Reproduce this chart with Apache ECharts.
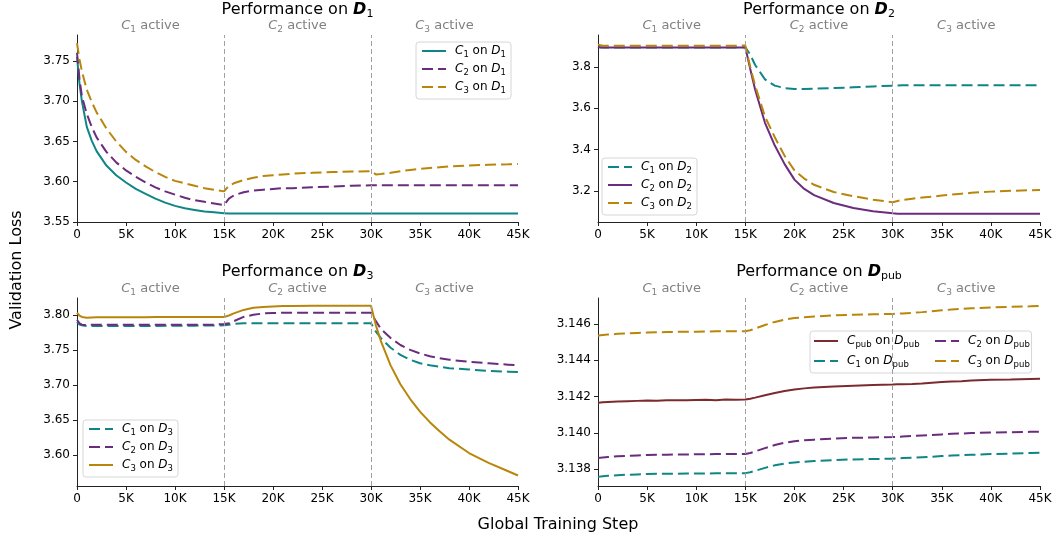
<!DOCTYPE html>
<html>
<head>
<meta charset="utf-8">
<script src="https://cdn.jsdelivr.net/npm/echarts@6/dist/echarts.min.js"></script>
<style>
  html, body { margin: 0; padding: 0; background: #fff; }
  #chart { width: 1056px; height: 539px; }
</style>
</head>
<body>
<div id="chart"></div>
<script>
// --- Pasos de entrenamiento (eje x compartido) ---
const steps = [0, 250, 500, 1000, 1500, 2000, 3000, 4000, 5000, 6000, 7000, 8000, 9000, 10000,
    11000, 12000, 13000, 14000, 15000, 15500, 16000, 17000, 18000, 19000, 20000, 21000, 22000,
    24000, 26000, 28000, 30000, 30500, 31000, 32000, 33000, 34000, 35000, 36000, 37000, 38000,
    40000, 42000, 44000, 45000];

const xTicks = [0, 5000, 10000, 15000, 20000, 25000, 30000, 35000, 40000, 45000];
const phaseBounds = [0, 15000, 30000, 45000];
const phaseNames = ["1", "2", "3"];

// --- Panel D1 ---
const c1d1 = [3.755, 3.722, 3.700, 3.668, 3.651, 3.638, 3.620, 3.608, 3.599, 3.591, 3.585, 3.579, 3.574, 3.570,
    3.567, 3.565, 3.563, 3.562, 3.561, 3.5605, 3.5605, 3.5605, 3.5605, 3.5605, 3.5605, 3.5605, 3.5605,
    3.5605, 3.5605, 3.5605, 3.5605, 3.5605, 3.5605, 3.5605, 3.5605, 3.5605, 3.5605, 3.5605, 3.5605, 3.5605,
    3.5605, 3.5605, 3.5605, 3.5605];
const c2d1 = [3.760, 3.728, 3.706, 3.684, 3.668, 3.655, 3.637, 3.624, 3.614, 3.606, 3.599, 3.593, 3.588, 3.584,
    3.580, 3.577, 3.575, 3.573, 3.571, 3.579, 3.583, 3.587, 3.589, 3.590, 3.591, 3.592, 3.592,
    3.593, 3.594, 3.595, 3.5955, 3.5955, 3.5955, 3.5955, 3.5955, 3.5955, 3.5955, 3.5955, 3.5955, 3.5955,
    3.5955, 3.5955, 3.5955, 3.5955];
const c3d1 = [3.772, 3.752, 3.737, 3.714, 3.699, 3.686, 3.666, 3.650, 3.637, 3.627, 3.619, 3.612, 3.606, 3.601,
    3.598, 3.595, 3.592, 3.590, 3.588, 3.595, 3.598, 3.602, 3.605, 3.607, 3.608, 3.609, 3.610,
    3.611, 3.612, 3.6125, 3.613, 3.609, 3.6095, 3.611, 3.613, 3.6145, 3.616, 3.617, 3.618, 3.619,
    3.620, 3.621, 3.6215, 3.622];

// --- Panel D2 ---
const c1d2 = [3.898, 3.896, 3.895, 3.895, 3.895, 3.895, 3.895, 3.895, 3.895, 3.895, 3.895, 3.895, 3.895, 3.895,
    3.895, 3.895, 3.895, 3.895, 3.896, 3.86, 3.81, 3.74, 3.71, 3.698, 3.694, 3.694, 3.695,
    3.698, 3.702, 3.706, 3.710, 3.711, 3.712, 3.712, 3.712, 3.712, 3.712, 3.712, 3.712, 3.712,
    3.712, 3.712, 3.712, 3.712];
const c2d2 = [3.897, 3.894, 3.894, 3.894, 3.894, 3.894, 3.894, 3.894, 3.894, 3.894, 3.894, 3.894, 3.894, 3.894,
    3.894, 3.894, 3.894, 3.894, 3.895, 3.79, 3.69, 3.53, 3.42, 3.33, 3.255, 3.21, 3.18,
    3.142, 3.118, 3.102, 3.092, 3.090, 3.090, 3.090, 3.090, 3.090, 3.090, 3.090, 3.090, 3.090,
    3.090, 3.090, 3.090, 3.090];
const c3d2 = [3.910, 3.905, 3.903, 3.903, 3.903, 3.903, 3.903, 3.903, 3.903, 3.903, 3.903, 3.903, 3.903, 3.903,
    3.903, 3.903, 3.903, 3.903, 3.904, 3.80, 3.71, 3.56, 3.46, 3.37, 3.30, 3.26, 3.23,
    3.195, 3.175, 3.158, 3.146, 3.152, 3.157, 3.163, 3.168, 3.173, 3.178, 3.183, 3.187, 3.191,
    3.197, 3.201, 3.204, 3.205];

// --- Panel D3 ---
const c1d3 = [3.790, 3.786, 3.785, 3.784, 3.784, 3.784, 3.784, 3.784, 3.784, 3.784, 3.784, 3.7842, 3.7844, 3.7845,
    3.7845, 3.7846, 3.7847, 3.7848, 3.785, 3.786, 3.787, 3.788, 3.788, 3.788, 3.788, 3.788, 3.788,
    3.788, 3.788, 3.788, 3.788, 3.776, 3.767, 3.753, 3.743, 3.736, 3.731, 3.728, 3.726, 3.724,
    3.722, 3.720, 3.719, 3.7185];
const c2d3 = [3.793, 3.788, 3.786, 3.7855, 3.786, 3.786, 3.786, 3.786, 3.786, 3.786, 3.786, 3.786, 3.786, 3.786,
    3.786, 3.786, 3.786, 3.786, 3.787, 3.788, 3.791, 3.797, 3.800, 3.802, 3.8025, 3.803, 3.803,
    3.803, 3.803, 3.803, 3.803, 3.791, 3.780, 3.767, 3.757, 3.750, 3.745, 3.741, 3.738, 3.736,
    3.733, 3.731, 3.729, 3.728];
const c3d3 = [3.803, 3.799, 3.797, 3.796, 3.7963, 3.7965, 3.7965, 3.7966, 3.7966, 3.7967, 3.7967, 3.7968, 3.7968, 3.7969,
    3.7969, 3.797, 3.797, 3.797, 3.797, 3.799, 3.802, 3.807, 3.810, 3.811, 3.812, 3.8125, 3.8125,
    3.813, 3.813, 3.813, 3.813, 3.785, 3.763, 3.728, 3.701, 3.680, 3.662, 3.647, 3.634, 3.622,
    3.603, 3.589, 3.577, 3.571];

// --- Panel Dpub ---
const cpubdpub = [3.14166, 3.14167, 3.14168, 3.14170, 3.14171, 3.14172, 3.14174, 3.14176, 3.14178, 3.14177, 3.14179, 3.14180, 3.14179, 3.14181,
    3.14182, 3.14180, 3.14183, 3.14182, 3.14183, 3.14188, 3.14194, 3.14207, 3.14220, 3.14231, 3.14239, 3.14245, 3.14250,
    3.14256, 3.14260, 3.14264, 3.14267, 3.14268, 3.14268, 3.14269, 3.14272, 3.14276, 3.14280, 3.14283, 3.14285, 3.14288,
    3.14292, 3.14294, 3.14297, 3.14298];
const c1dpub = [3.13757, 3.13758, 3.13760, 3.13762, 3.13764, 3.13766, 3.13768, 3.13770, 3.13772, 3.13773, 3.13773, 3.13774, 3.13775, 3.13775,
    3.13775, 3.13776, 3.13776, 3.13777, 3.13777, 3.13782, 3.13790, 3.13806, 3.13820, 3.13830, 3.13836, 3.13840, 3.13844,
    3.13849, 3.13853, 3.13855, 3.13857, 3.13858, 3.13860, 3.13862, 3.13865, 3.13868, 3.13871, 3.13874, 3.13876, 3.13878,
    3.13882, 3.13885, 3.13888, 3.13889];
const c2dpub = [3.13860, 3.13862, 3.13864, 3.13866, 3.13868, 3.13870, 3.13873, 3.13875, 3.13877, 3.13878, 3.13879, 3.13880, 3.13880, 3.13881,
    3.13881, 3.13882, 3.13882, 3.13882, 3.13883, 3.13888, 3.13897, 3.13915, 3.13932, 3.13945, 3.13953, 3.13958, 3.13962,
    3.13968, 3.13972, 3.13974, 3.13976, 3.13977, 3.13979, 3.13982, 3.13985, 3.13988, 3.13991, 3.13994, 3.13996, 3.13998,
    3.14001, 3.14003, 3.14005, 3.14006];
const c3dpub = [3.14536, 3.14538, 3.14540, 3.14542, 3.14544, 3.14546, 3.14549, 3.14551, 3.14553, 3.14555, 3.14556, 3.14557, 3.14558, 3.14558,
    3.14559, 3.14560, 3.14560, 3.14561, 3.14561, 3.14566, 3.14575, 3.14595, 3.14612, 3.14625, 3.14633, 3.14638, 3.14642,
    3.14648, 3.14652, 3.14654, 3.14656, 3.14657, 3.14659, 3.14662, 3.14666, 3.14671, 3.14676, 3.14680, 3.14684, 3.14687,
    3.14692, 3.14695, 3.14698, 3.14700];

// --- Ticks del eje y por panel ---
const yTicks1 = [3.55, 3.60, 3.65, 3.70, 3.75];
const yTicks2 = [3.2, 3.4, 3.6, 3.8];
const yTicks3 = [3.60, 3.65, 3.70, 3.75, 3.80];
const yTicks4 = [3.138, 3.140, 3.142, 3.144, 3.146];

// --- Estilos ---
const FONT = "DejaVu Sans";
const TEAL = "#0f8585";
const PURPLE = "#6b2c7d";
const GOLD = "#b8860b";
const MAROON = "#7d2a2f";
const DASH = [11, 5];

const grids = [
    { left: 77, top: 35, width: 441, height: 187 },
    { left: 598, top: 35, width: 442, height: 187 },
    { left: 77, top: 298, width: 441, height: 188 },
    { left: 598, top: 298, width: 442, height: 188 }
];

// rich text para subindices
const richLegend = {
    i: { fontFamily: FONT, fontSize: 12, fontStyle: "italic", color: "#000", lineHeight: 16 },
    n: { fontFamily: FONT, fontSize: 12, color: "#000", lineHeight: 16 },
    s: { fontFamily: FONT, fontSize: 8.5, color: "#000", lineHeight: 9, verticalAlign: "bottom" }
};
const richPhase = {
    i: { fontFamily: FONT, fontSize: 13, fontStyle: "italic", color: "#808080", lineHeight: 17 },
    n: { fontFamily: FONT, fontSize: 13, color: "#808080", lineHeight: 17 },
    s: { fontFamily: FONT, fontSize: 9, color: "#808080", lineHeight: 9, verticalAlign: "bottom" }
};
const richTitle = {
    n: { fontFamily: FONT, fontSize: 16, fontWeight: "normal", color: "#000", lineHeight: 20 },
    b: { fontFamily: FONT, fontSize: 16, fontStyle: "italic", fontWeight: "bold", color: "#000", lineHeight: 20 },
    s: { fontFamily: FONT, fontSize: 11, fontWeight: "normal", color: "#000", lineHeight: 10, verticalAlign: "bottom" }
};

function legendFmt(name) {
    const m = name.match(/^C(\w+) on D(\w+)$/);
    return `{i|C}{s|${m[1]}}{n| on }{i|D}{s|${m[2]}}`;
}

function makeSeries(name, vals, color, dashed, gi) {
    return {
        name: name,
        type: "line",
        xAxisIndex: gi,
        yAxisIndex: gi,
        data: steps.map((x, i) => [x, vals[i]]),
        symbol: "none",
        showSymbol: false,
        lineStyle: { color: color, width: 2, type: dashed ? DASH : "solid" },
        itemStyle: { color: color },
        emphasis: { disabled: true }
    };
}

// lineas verticales y etiquetas de fase
function addPhases(s) {
    s.markLine = {
        symbol: "none",
        silent: true,
        label: { show: false },
        lineStyle: { color: "#a0a0a0", type: [5, 3], width: 1 },
        data: [{ xAxis: phaseBounds[1] }, { xAxis: phaseBounds[2] }]
    };
    s.markArea = {
        silent: true,
        itemStyle: { color: "rgba(0,0,0,0)" },
        label: {
            show: true,
            position: "top",
            distance: 1,
            formatter: (p) => `{i|C}{s|${p.name}}{n| active}`,
            rich: richPhase
        },
        data: phaseNames.map((n, k) => [
            { name: n, xAxis: phaseBounds[k] },
            { xAxis: phaseBounds[k + 1] }
        ])
    };
    return s;
}

const series = [
    addPhases(makeSeries("C1 on D1", c1d1, TEAL, false, 0)),
    makeSeries("C2 on D1", c2d1, PURPLE, true, 0),
    makeSeries("C3 on D1", c3d1, GOLD, true, 0),
    addPhases(makeSeries("C1 on D2", c1d2, TEAL, true, 1)),
    makeSeries("C2 on D2", c2d2, PURPLE, false, 1),
    makeSeries("C3 on D2", c3d2, GOLD, true, 1),
    addPhases(makeSeries("C1 on D3", c1d3, TEAL, true, 2)),
    makeSeries("C2 on D3", c2d3, PURPLE, true, 2),
    makeSeries("C3 on D3", c3d3, GOLD, false, 2),
    addPhases(makeSeries("Cpub on Dpub", cpubdpub, MAROON, false, 3)),
    makeSeries("C1 on Dpub", c1dpub, TEAL, true, 3),
    makeSeries("C2 on Dpub", c2dpub, PURPLE, true, 3),
    makeSeries("C3 on Dpub", c3dpub, GOLD, true, 3)
];

const axisCommon = {
    axisLine: { show: true, lineStyle: { color: "#222", width: 1 } },
    splitLine: { show: false }
};

const xAxes = grids.map((g, gi) => Object.assign({}, axisCommon, {
    type: "value",
    gridIndex: gi,
    min: 0,
    max: 45000,
    axisTick: { show: true, length: 4, lineStyle: { color: "#222" }, customValues: xTicks },
    axisLabel: {
        customValues: xTicks,
        margin: 7,
        fontFamily: FONT,
        fontSize: 12,
        color: "#000",
        formatter: (v) => v === 0 ? "0" : (v / 1000) + "K"
    }
}));

const yRanges = [[3.55, 3.782], [3.05, 3.955], [3.556, 3.824], [3.13706, 3.14744]];
const yTickSets = [yTicks1, yTicks2, yTicks3, yTicks4];
const yDecimals = [2, 1, 2, 3];

const yAxes = grids.map((g, gi) => Object.assign({}, axisCommon, {
    type: "value",
    gridIndex: gi,
    min: yRanges[gi][0],
    max: yRanges[gi][1],
    axisTick: { show: true, length: 4, lineStyle: { color: "#222" }, customValues: yTickSets[gi] },
    axisLabel: {
        customValues: yTickSets[gi],
        margin: 7,
        fontFamily: FONT,
        fontSize: 12,
        color: "#000",
        formatter: (v) => v.toFixed(yDecimals[gi])
    }
}));

const legendBox = {
    orient: "vertical",
    selectedMode: false,
    itemWidth: 24,
    itemHeight: 14,
    itemGap: 4,
    padding: [3, 5, 4, 5],
    backgroundColor: "rgba(255,255,255,0.85)",
    borderColor: "#d6d6d6",
    borderWidth: 1,
    borderRadius: 3,
    itemStyle: { opacity: 0 },
    formatter: legendFmt,
    textStyle: { rich: richLegend, padding: [0, 0, 0, 4] }
};

const legends = [
    Object.assign({}, legendBox, { left: 416, top: 42, data: ["C1 on D1", "C2 on D1", "C3 on D1"] }),
    Object.assign({}, legendBox, { left: 602, top: 158, data: ["C1 on D2", "C2 on D2", "C3 on D2"] }),
    Object.assign({}, legendBox, { left: 83, top: 420, data: ["C1 on D3", "C2 on D3", "C3 on D3"] }),
    Object.assign({}, legendBox, { left: 810, top: 331, itemGap: 6, padding: [4, 112, 4, 3], data: ["Cpub on Dpub", "C1 on Dpub"] }),
    Object.assign({}, legendBox, { left: 934, top: 331, itemGap: 6, padding: [4, 0, 4, 0], backgroundColor: "transparent", borderWidth: 0, data: ["C2 on Dpub", "C3 on Dpub"] })
];

const titleNames = ["1", "2", "3", "pub"];
const titles = grids.map((g, gi) => ({
    left: g.left + g.width / 2,
    top: gi < 2 ? 0 : 262,
    textAlign: "center",
    padding: 0,
    text: `{n|Performance on }{b|D}{s|${titleNames[gi]}}`,
    textStyle: { fontWeight: "normal", rich: richTitle }
}));

var myChart = echarts.init(document.getElementById("chart"));

myChart.setOption({
    animation: false,
    backgroundColor: "#fff",
    textStyle: { fontFamily: FONT },
    title: titles,
    grid: grids,
    xAxis: xAxes,
    yAxis: yAxes,
    legend: legends,
    series: series,
    graphic: [
        {
            type: "text",
            x: 17,
            y: 270,
            rotation: Math.PI / 2,
            style: { text: "Validation Loss", font: "16px DejaVu Sans", fill: "#000", align: "center", verticalAlign: "middle" }
        },
        {
            type: "text",
            x: 558,
            y: 525,
            style: { text: "Global Training Step", font: "16px DejaVu Sans", fill: "#000", align: "center", verticalAlign: "middle" }
        }
    ]
});
</script>
</body>
</html>
